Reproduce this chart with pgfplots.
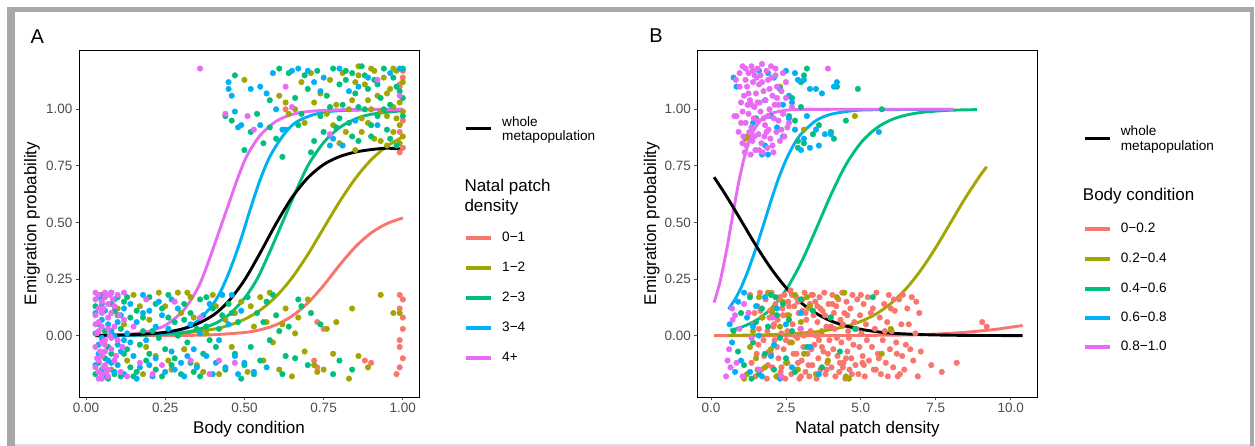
\documentclass[border=0pt]{standalone}
\usepackage{fontspec}
\setmainfont{Liberation Sans}
\usepackage{pgfplots}
\pgfplotsset{compat=1.18}
\definecolor{cR}{HTML}{F8766D}
\definecolor{cO}{HTML}{A3A500}
\definecolor{cG}{HTML}{00BF7D}
\definecolor{cB}{HTML}{00B0F6}
\definecolor{cP}{HTML}{E76BF3}
\definecolor{gtxt}{HTML}{4D4D4D}
\definecolor{frm}{HTML}{A8A8A8}
\pgfplotsset{
  myax/.style={scale only axis, width=340pt, height=347pt,
    axis line style={black, line width=0.9pt},
    tick align=outside, major tick length=3pt, tick pos=left,
    tick style={gtxt, line width=0.8pt},
    ticklabel style={font=\fontsize{13.5}{15}\selectfont, text=gtxt},
    /pgf/number format/assume math mode=true,
    label style={font=\fontsize{17}{19}\selectfont},
    ymin=-0.271, ymax=1.262,
    ytick={0,0.25,0.5,0.75,1}, yticklabels={0.00,0.25,0.50,0.75,1.00},
    ylabel={Emigration probability},
  },
  pts/.style={only marks, mark=*, mark size=2.8pt, color=#1},
  crv/.style={color=#1, line width=2.9pt, smooth, tension=0.5},
}
\newcommand{\lk}[3]{\draw[#1, line width=3.8pt] (#2pt,#3pt) -- ++(25pt,0pt);}
\begin{document}
\begin{tikzpicture}
\useasboundingbox (0pt,0pt) rectangle (1255pt,446pt);
\fill[white] (0pt,0pt) rectangle (1255pt,446pt);
\fill[frm] (7pt,434pt) rectangle (1253.5pt,439pt);
\fill[frm] (7pt,0pt) rectangle (15pt,439pt);
\fill[frm] (1249.5pt,0pt) rectangle (1253.5pt,439pt);
\fill[gray!25] (15pt,0pt) rectangle (1249.5pt,1.5pt);

% ---------------- Panel A ----------------
\begin{axis}[myax, at={(79pt,49pt)}, anchor=south west,
  xmin=-0.022, xmax=1.051,
  xtick={0,0.25,0.5,0.75,1}, xticklabels={0.00,0.25,0.50,0.75,1.00},
  xlabel={Body condition},
  xlabel style={at={(axis description cs:0.5,-0.092)}, anchor=center},
  ylabel style={at={(axis description cs:-0.138,0.5)}, anchor=center}]
% red 0-1
\addplot[pts=cR] coordinates {(0.31,-0.06)(0.73,0.06)(0.73,-0.14)(0.75,0.03)(0.88,-0.11)(0.90,-0.12)(0.99,0.18)(1.00,0.16)(0.99,0.12)(1.00,0.08)(0.99,-0.05)(1.00,-0.10)(0.99,-0.14)(0.98,-0.17)(1.00,0.03)(0.99,-0.02)(0.72,-0.11)
(0.63,1.00)(1.00,1.17)(1.00,1.14)(0.99,1.10)(1.00,0.95)(0.99,0.90)(1.00,0.83)(0.99,0.81)(0.99,1.11)};
% olive 1-2
\addplot[pts=cO] coordinates {(0.05,0.16)(0.08,-0.15)(0.10,0.12)(0.13,-0.11)(0.15,0.18)(0.18,-0.17)(0.20,0.07)(0.22,-0.09)(0.25,0.13)(0.27,-0.15)(0.29,0.19)(0.31,-0.06)(0.33,0.17)(0.35,-0.13)(0.38,0.01)(0.40,0.18)(0.42,-0.17)(0.44,0.07)(0.46,-0.05)(0.49,0.15)(0.51,-0.16)(0.53,0.04)(0.56,-0.11)(0.58,0.19)(0.59,-0.03)(0.61,-0.15)(0.63,0.12)(0.65,-0.18)(0.67,0.08)(0.69,-0.07)(0.72,-0.13)(0.73,-0.16)(0.76,0.03)(0.78,-0.08)(0.84,0.12)(0.83,-0.19)(0.93,0.18)(0.97,0.10)(0.99,0.10)(0.57,0.06)
(0.12,0.05)(0.17,0.13)(0.19,-0.05)(0.23,0.19)(0.26,-0.11)(0.30,0.10)(0.32,0.19)(0.34,0.08)(0.37,-0.16)(0.41,0.13)(0.47,0.10)(0.52,0.13)(0.55,0.17)(0.62,0.05)(0.66,0.01)(0.70,0.16)(0.75,-0.15)(0.79,0.06)(0.86,-0.09)(0.89,-0.14)
(0.50,1.13)(0.61,1.06)(0.63,1.03)(0.64,0.98)(0.66,1.00)(0.69,0.94)(0.72,1.03)(0.74,1.07)(0.77,1.13)(0.79,1.02)(0.80,0.85)(0.82,0.90)(0.84,1.04)(0.85,0.82)(0.86,1.15)(0.88,1.11)(0.89,0.94)(0.90,1.18)(0.91,0.87)(0.92,1.06)(0.93,0.99)(0.94,1.14)(0.95,0.84)(0.96,1.09)(0.97,0.90)(0.98,1.17)(0.98,0.96)(0.99,1.03)(1.00,0.88)(1.00,1.12)(0.99,0.93)(0.97,1.01)(0.87,0.96)(0.76,0.98)(0.68,1.12)
(0.81,1.16)(0.83,1.00)(0.85,1.12)(0.87,0.90)(0.89,1.04)(0.91,1.17)(0.93,0.86)(0.95,1.07)(0.97,1.18)(0.99,0.85)(1.00,0.99)(0.95,0.97)(0.90,1.00)(0.78,0.93)(0.71,1.16)(0.86,1.19)};
% green 2-3
\addplot[pts=cG] coordinates {(0.03,-0.17)(0.04,0.05)(0.06,-0.10)(0.08,0.14)(0.09,-0.17)(0.11,0.03)(0.12,-0.08)(0.13,0.17)(0.14,-0.14)(0.16,0.11)(0.17,-0.04)(0.18,0.08)(0.19,-0.11)(0.20,0.17)(0.21,0.02)(0.22,-0.15)(0.24,0.12)(0.25,-0.06)(0.26,0.18)(0.27,-0.13)(0.28,0.06)(0.30,-0.17)(0.31,0.14)(0.32,-0.03)(0.33,0.10)(0.34,-0.16)(0.36,0.16)(0.37,-0.08)(0.38,0.04)(0.40,0.12)(0.41,-0.05)(0.43,0.09)(0.44,-0.15)(0.45,0.14)(0.47,-0.08)(0.48,0.06)(0.50,-0.13)(0.51,0.17)(0.52,-0.05)(0.54,0.10)(0.55,-0.11)(0.57,0.15)(0.58,-0.02)(0.60,0.09)(0.62,-0.17)(0.64,0.04)(0.66,-0.10)(0.68,0.13)(0.70,-0.13)(0.74,0.05)(0.05,0.18)(0.07,-0.05)(0.10,0.09)(0.15,-0.18)(0.23,-0.01)
(0.04,-0.12)(0.06,0.02)(0.09,0.11)(0.11,-0.18)(0.03,0.13)(0.07,-0.19)(0.12,0.15)(0.05,-0.15)(0.08,-0.08)(0.10,0.17)(0.13,-0.06)(0.14,0.08)
(0.16,-0.16)(0.18,0.02)(0.20,-0.08)(0.22,0.14)(0.24,-0.18)(0.26,0.08)(0.28,-0.10)(0.29,0.00)(0.31,0.07)(0.33,-0.12)(0.35,0.03)(0.36,-0.18)(0.38,0.17)(0.39,-0.02)(0.42,0.03)(0.46,0.10)(0.49,-0.19)(0.53,-0.17)(0.56,0.06)(0.59,0.18)(0.61,0.02)(0.63,-0.09)(0.67,0.16)(0.71,0.10)(0.78,-0.17)(0.80,-0.11)(0.84,-0.15)
(0.44,0.97)(0.46,0.95)(0.47,1.15)(0.52,0.90)(0.54,0.98)(0.56,0.85)(0.58,1.04)(0.60,0.87)(0.62,0.79)(0.64,1.16)(0.66,1.05)(0.68,0.98)(0.70,1.09)(0.71,0.81)(0.73,1.17)(0.74,0.97)(0.76,1.06)(0.78,1.18)(0.79,0.92)(0.80,1.11)(0.81,1.02)(0.83,0.94)(0.84,1.16)(0.85,1.07)(0.86,0.86)(0.87,1.19)(0.88,1.00)(0.89,1.09)(0.90,0.88)(0.91,1.13)(0.92,0.97)(0.93,1.05)(0.94,1.18)(0.95,0.91)(0.96,1.02)(0.97,1.14)(0.98,0.84)(0.99,1.08)(1.00,0.97)(1.00,1.18)(0.82,1.13)(0.75,0.90)(0.69,1.15)
(0.80,0.96)(0.82,1.17)(0.84,0.88)(0.86,1.01)(0.88,1.15)(0.90,0.93)(0.92,1.11)(0.94,1.00)(0.96,0.87)(0.98,1.10)(1.00,1.05)(0.72,0.86)(0.77,1.01)(0.67,0.93)(0.58,0.92)(0.50,0.82)(0.61,1.18)};
% blue 3-4
\addplot[pts=cB] coordinates {(0.03,0.10)(0.04,-0.08)(0.05,0.14)(0.06,-0.15)(0.03,0.01)(0.07,0.05)(0.08,-0.12)(0.09,0.16)(0.10,-0.04)(0.11,0.09)(0.12,-0.17)(0.13,0.01)(0.14,0.14)(0.15,-0.09)(0.16,0.06)(0.17,-0.14)(0.18,0.18)(0.19,-0.02)(0.20,0.11)(0.22,-0.10)(0.23,0.15)(0.25,-0.16)(0.26,0.03)(0.27,-0.07)(0.29,0.12)(0.30,-0.12)(0.31,-0.18)(0.33,0.05)(0.34,-0.06)(0.35,-0.14)(0.37,0.09)(0.38,-0.09)(0.40,-0.17)(0.41,-0.12)(0.43,0.18)(0.44,-0.14)(0.46,0.18)(0.48,-0.17)(0.49,0.11)(0.06,0.11)(0.08,0.02)(0.10,-0.13)(0.05,-0.01)(0.12,0.12)(0.21,-0.18)
(0.04,0.17)(0.05,0.07)(0.07,-0.11)(0.09,0.00)(0.11,-0.07)(0.03,-0.13)(0.08,0.19)(0.10,0.06)(0.06,-0.18)(0.12,-0.02)(0.04,-0.04)(0.09,-0.16)
(0.14,-0.03)(0.16,-0.19)(0.18,0.10)(0.20,-0.13)(0.22,0.04)(0.24,0.09)(0.27,0.16)(0.28,-0.15)(0.32,-0.09)(0.36,0.01)(0.39,0.14)(0.42,-0.02)(0.45,0.05)(0.47,-0.09)(0.50,-0.12)(0.53,-0.16)(0.57,-0.14)
(0.45,1.12)(0.45,1.09)(0.46,1.06)(0.49,0.93)(0.48,0.92)(0.52,1.09)(0.55,1.10)(0.57,1.07)(0.60,1.00)(0.62,0.91)(0.65,1.17)(0.67,1.18)(0.70,1.17)(0.72,1.12)(0.75,1.14)(0.77,0.84)(0.78,0.87)(0.81,0.84)(0.83,1.08)(0.86,1.10)(0.89,1.14)(0.92,0.93)(0.99,1.18)(0.63,0.91)(0.55,0.93)
(0.47,0.99)(0.59,1.16)(0.74,1.08)(0.80,1.18)(0.85,0.95)(0.96,1.16)};
% pink 4+
\addplot[pts=cP] coordinates {(0.03,0.19)(0.04,0.12)(0.03,-0.05)(0.05,-0.17)(0.04,0.02)(0.06,0.17)(0.05,-0.09)(0.07,0.08)(0.03,-0.14)(0.06,-0.02)(0.08,0.19)(0.07,-0.18)(0.04,0.06)(0.09,-0.11)(0.05,0.15)(0.08,-0.06)(0.03,0.09)(0.06,-0.13)(0.10,0.18)(0.07,0.03)(0.04,-0.19)(0.09,0.13)(0.05,-0.03)(0.11,-0.16)(0.03,0.16)(0.08,0.10)(0.06,-0.07)(0.12,0.19)(0.04,-0.11)(0.07,-0.15)(0.10,-0.02)(0.05,0.04)(0.13,-0.18)(0.17,-0.12)(0.21,-0.17)(0.24,-0.13)(0.12,0.07)(0.15,0.04)(0.28,0.15)(0.33,-0.11)(0.39,-0.17)(0.42,-0.11)(0.47,-0.12)(0.19,0.16)(0.36,0.08)
(0.05,0.10)(0.04,-0.16)(0.06,0.19)(0.08,-0.01)(0.03,0.05)(0.07,0.14)(0.05,-0.19)(0.09,0.04)(0.04,0.18)(0.06,-0.04)
(0.035,0.01)(0.045,-0.07)(0.055,0.12)(0.065,-0.16)(0.075,0.00)(0.085,0.16)(0.095,-0.09)(0.035,-0.10)(0.055,-0.14)(0.075,0.18)(0.105,0.09)(0.115,-0.05)
(0.36,1.18)(0.44,0.98)(0.51,0.97)(0.53,0.91)(0.65,1.01)(0.77,0.89)(0.92,1.13)(0.99,1.06)(0.63,1.10)};
% fitted curves
\addplot[crv=cR] coordinates {(0.03,0)(0.30,0.001)(0.40,0.0039)(0.50,0.014)(0.55,0.026)(0.60,0.048)(0.65,0.086)(0.70,0.144)(0.75,0.222)(0.80,0.311)(0.85,0.392)(0.90,0.454)(0.95,0.495)(1.0,0.52)};
\addplot[crv=cO] coordinates {(0.03,0.0007)(0.20,0.0039)(0.30,0.0104)(0.40,0.028)(0.45,0.045)(0.50,0.072)(0.55,0.113)(0.60,0.173)(0.65,0.255)(0.70,0.358)(0.75,0.475)(0.80,0.591)(0.85,0.694)(0.90,0.777)(0.95,0.837)(1.0,0.878)};
\addplot[crv=cG] coordinates {(0.03,0.0003)(0.15,0.0018)(0.25,0.0067)(0.33,0.019)(0.40,0.049)(0.45,0.091)(0.50,0.165)(0.54,0.25)(0.58,0.37)(0.62,0.5)(0.66,0.63)(0.70,0.75)(0.75,0.853)(0.80,0.919)(0.85,0.957)(0.90,0.978)(1.0,0.994)};
\addplot[crv=cB] coordinates {(0.03,0.0002)(0.15,0.002)(0.25,0.011)(0.30,0.027)(0.35,0.062)(0.40,0.137)(0.43,0.21)(0.46,0.31)(0.49,0.43)(0.52,0.565)(0.55,0.69)(0.58,0.79)(0.62,0.88)(0.66,0.94)(0.72,0.977)(0.80,0.994)(1.0,0.9998)};
\addplot[crv=cP] coordinates {(0.03,0.001)(0.10,0.004)(0.15,0.0085)(0.20,0.02)(0.25,0.045)(0.30,0.10)(0.33,0.155)(0.36,0.23)(0.39,0.34)(0.42,0.46)(0.45,0.58)(0.48,0.70)(0.51,0.80)(0.55,0.885)(0.60,0.947)(0.65,0.977)(0.70,0.99)(0.80,0.998)(1.0,1.0)};
\addplot[crv=black] coordinates {(0.03,0.001)(0.15,0.0044)(0.25,0.015)(0.33,0.040)(0.40,0.089)(0.45,0.152)(0.50,0.245)(0.55,0.366)(0.60,0.495)(0.65,0.610)(0.70,0.697)(0.75,0.756)(0.80,0.791)(0.85,0.811)(0.90,0.822)(0.95,0.828)(1.0,0.824)};
\end{axis}

% ---------------- Panel B ----------------
\begin{axis}[myax, at={(697.3pt,49pt)}, anchor=south west,
  xmin=-0.46, xmax=10.89,
  xtick={0,2.5,5,7.5,10}, xticklabels={0.0,2.5,5.0,7.5,10.0},
  xlabel={Natal patch density},
  xlabel style={at={(axis description cs:0.5,-0.092)}, anchor=center},
  ylabel style={at={(axis description cs:-0.134,0.5)}, anchor=center}]
% red 0-0.2
\addplot[pts=cR] coordinates {(1.30,0.18)(1.35,-0.12)(1.42,0.05)(1.48,-0.18)(1.55,0.13)(1.58,-0.04)(1.63,0.19)(1.68,-0.15)(1.72,0.08)(1.77,-0.09)(1.82,0.16)(1.86,-0.19)(1.88,0.02)(1.93,-0.07)(1.97,0.11)(2.02,0.19)(2.05,-0.14)(2.08,0.04)(2.12,-0.02)(2.15,0.14)(2.18,-0.18)(2.22,0.07)(2.25,-0.10)(2.28,0.17)(2.32,-0.16)(2.35,0.01)(2.38,0.12)(2.42,-0.06)(2.45,0.18)(2.48,-0.19)(2.52,0.09)(2.55,-0.12)(2.58,0.15)(2.62,-0.03)(2.65,0.20)(2.68,-0.17)(2.72,0.05)(2.75,-0.08)(2.78,0.13)(2.82,-0.15)(2.85,0.17)(2.88,-0.01)(2.92,0.10)(2.95,-0.19)(2.98,0.03)(3.02,-0.11)(3.05,0.16)(3.08,-0.05)(3.12,0.19)(3.15,-0.16)(3.18,0.07)(3.22,-0.08)(3.25,0.12)(3.28,-0.18)(3.32,0.02)(3.35,0.18)(3.38,-0.13)(3.42,0.09)(3.45,-0.04)(3.48,0.15)(3.52,-0.19)(3.55,0.06)(3.58,-0.10)(3.62,0.17)(3.65,-0.15)(3.68,0.01)(3.72,0.11)(3.75,-0.07)(3.78,0.19)(3.82,-0.17)(3.85,0.04)(3.88,-0.12)(3.92,0.14)(3.95,-0.02)(3.98,0.08)(4.02,-0.14)(4.05,0.18)(4.08,-0.06)(4.12,0.03)(4.15,-0.18)(4.18,0.13)(4.22,-0.09)(4.25,0.16)(4.28,-0.16)(4.32,0.07)(4.35,-0.03)(4.38,0.19)(4.42,-0.12)(4.45,0.10)(4.48,-0.19)(4.52,0.15)(4.55,-0.07)(4.58,0.02)(4.62,-0.15)(4.65,0.12)(4.68,-0.10)(4.72,0.18)(4.75,-0.04)(4.78,0.06)(4.82,-0.13)(4.88,0.16)(4.92,-0.17)(4.97,0.09)(5.02,0.01)(5.06,-0.09)(5.09,0.14)(5.13,-0.18)(5.17,0.05)(5.23,0.17)(5.27,-0.11)(5.33,0.10)(5.37,-0.05)(5.43,-0.15)(5.47,0.03)(5.52,0.19)(5.57,-0.08)(5.63,0.08)(5.67,-0.17)(5.73,-0.02)(5.78,0.14)(5.83,-0.12)(5.88,0.06)(5.93,0.18)(5.97,-0.06)(6.03,0.02)(6.08,-0.14)(6.13,0.11)(6.18,-0.03)(6.23,-0.18)(6.28,0.16)(6.35,0.05)(6.38,-0.09)(6.45,-0.15)(6.55,0.12)(6.50,-0.04)(6.70,0.17)(6.75,-0.11)(6.82,0.01)(6.90,-0.18)(6.85,0.15)(7.35,-0.13)(8.20,-0.12)(7.00,-0.07)(9.05,0.06)(9.20,0.04)
(2.00,-0.08)(2.40,0.09)(2.90,-0.12)(3.30,0.14)(3.70,-0.05)(4.10,0.10)(4.60,-0.01)(5.10,-0.13)(2.60,0.13)(3.10,0.00)(3.60,-0.02)(4.30,-0.12)
(1.45,0.10)(1.52,-0.08)(1.60,0.03)(1.75,-0.02)(1.90,-0.13)(2.10,0.05)(2.20,-0.05)(2.30,0.16)(2.50,-0.02)(2.70,0.18)(2.80,0.00)(2.90,0.15)(3.00,-0.18)(3.15,0.10)(3.25,-0.13)(3.40,0.18)(3.50,0.00)(3.65,0.12)(3.80,0.09)(3.90,-0.08)(4.00,0.04)(4.20,-0.01)(4.40,0.05)(4.50,-0.10)(4.70,-0.17)(4.85,0.03)(5.00,0.18)(5.20,-0.02)(5.40,0.12)(5.60,-0.10)(5.80,0.02)(6.00,0.12)(6.20,-0.08)(6.40,0.18)(6.60,0.05)(6.30,-0.17)(5.90,-0.18)(5.50,-0.15)(4.95,-0.05)(4.40,-0.14)(3.85,-0.15)(3.35,-0.06)(2.85,-0.08)(2.35,-0.14)(1.95,0.08)(1.65,0.11)(2.55,0.02)(3.05,0.11)(3.55,0.13)(4.05,0.14)(4.55,0.09)(5.05,-0.12)(6.65,-0.06)(6.95,0.10)(7.70,-0.16)(6.10,0.16)};
% olive 0.2-0.4
\addplot[pts=cO] coordinates {(1.1,-0.19)(1.2,-0.17)(1.3,-0.05)(1.4,0.02)(1.5,-0.10)(1.6,0.17)(1.7,0.08)(1.8,-0.14)(1.9,0.19)(2.0,-0.06)(2.1,0.12)(2.2,-0.18)(2.3,0.04)(2.4,0.15)(2.5,-0.12)(2.6,0.09)(2.7,-0.03)(2.8,0.18)(2.9,-0.15)(3.0,0.06)(3.1,-0.08)(3.3,0.13)(3.5,-0.17)(3.7,0.02)(3.9,-0.11)(4.2,0.17)(4.5,-0.18)(4.6,-0.19)(5.7,-0.08)(6.0,0.03)(1.25,0.10)(1.55,-0.15)(2.05,0.10)(4.45,0.19)(3.2,0.17)
(2.3,1.10)(1.2,0.88)(4.8,0.97)(3.1,0.91)(1.15,0.87)};
% green 0.4-0.6
\addplot[pts=cG] coordinates {(0.75,0.02)(0.9,-0.07)(1.0,0.10)(1.1,-0.13)(1.3,0.17)(1.4,-0.03)(1.5,0.06)(1.6,-0.17)(1.7,0.12)(1.8,-0.08)(1.9,0.04)(2.0,0.18)(2.1,-0.15)(2.2,0.09)(2.3,-0.01)(2.4,0.14)(2.5,-0.10)(2.6,0.07)(2.8,-0.16)(3.0,0.16)(3.2,-0.05)(3.4,0.11)(3.7,-0.14)(4.0,0.08)(4.3,-0.07)(4.8,0.03)(5.4,0.17)(1.35,-0.19)(2.15,0.17)(2.7,0.02)
(3.2,1.18)(3.1,1.15)(2.7,1.05)(3.0,1.01)(2.8,0.95)(2.6,0.97)(2.9,0.86)(3.1,0.85)(3.4,0.89)(3.6,0.93)(4.0,0.90)(4.1,0.87)(4.2,1.10)(4.9,1.09)(4.5,0.95)(3.0,1.12)(2.9,0.83)(5.7,1.00)(1.5,0.96)};
% blue 0.6-0.8
\addplot[pts=cB] coordinates {(0.62,0.05)(0.7,-0.03)(0.9,0.15)(1.0,-0.11)(1.2,0.08)(1.3,-0.16)(1.5,0.13)(1.6,0.00)(1.7,-0.18)(1.8,0.17)(2.0,-0.09)(2.2,0.12)(2.3,-0.19)(2.5,0.05)(2.7,-0.14)(3.0,0.10)(3.3,-0.05)(3.6,-0.17)(1.1,0.19)(2.1,-0.04)(0.8,-0.16)(1.4,0.04)
(0.75,1.14)(0.85,1.10)(1.6,1.17)(1.9,1.16)(2.1,1.14)(2.5,1.17)(2.8,1.16)(2.9,1.13)(3.1,1.13)(3.3,1.09)(3.5,1.09)(3.7,1.07)(4.1,1.10)(4.2,1.12)(2.3,1.09)(2.6,1.06)(1.8,1.04)(2.4,1.02)(2.7,1.03)(3.2,0.97)(3.5,0.91)(3.8,0.89)(4.0,0.89)(3.1,0.87)(3.3,0.83)(3.0,0.82)(2.6,0.96)(2.2,0.92)(1.8,0.84)(1.7,0.80)(1.9,0.80)(2.8,0.91)(3.6,0.84)(5.6,0.90)(2.4,0.88)(1.4,0.94)(2.0,0.97)};
% pink 0.8-1.0
\addplot[pts=cP] coordinates {(0.50,-0.18)(0.60,-0.06)(0.65,-0.14)(0.72,0.07)(0.80,0.09)(0.85,-0.12)(0.95,0.03)(1.05,-0.18)(1.10,0.14)(1.25,0.10)(1.35,-0.01)(1.60,-0.15)(2.05,0.08)(2.35,-0.18)(3.0,0.03)(0.70,0.12)(0.55,-0.11)
(0.78,0.97)(0.85,0.97)(0.83,1.13)(0.95,1.10)(1.05,1.19)(1.15,1.18)(1.25,1.16)(1.35,1.19)(1.45,1.15)(1.55,1.18)(1.70,1.20)(1.85,1.17)(2.00,1.19)(2.15,1.18)(1.10,1.06)(1.20,1.10)(1.30,1.04)(1.40,1.12)(1.50,1.07)(1.60,1.11)(1.75,1.08)(1.90,1.13)(2.05,1.06)(2.20,1.10)(2.35,1.08)(2.50,1.05)(1.05,0.99)(1.15,0.94)(1.25,0.98)(1.35,0.92)(1.45,1.01)(1.55,0.95)(1.65,0.99)(1.80,0.93)(1.95,1.00)(2.10,0.96)(2.25,1.02)(2.40,0.98)(2.55,0.92)(1.08,0.88)(1.18,0.84)(1.28,0.90)(1.38,0.86)(1.48,0.82)(1.58,0.89)(1.68,0.85)(1.78,0.88)(1.88,0.83)(1.98,0.87)(2.08,0.81)(2.18,0.90)(2.30,0.86)(2.45,0.88)(2.60,0.94)(1.22,1.02)(1.42,0.96)(1.62,1.03)(1.82,1.04)(2.02,1.14)(1.32,0.80)(1.72,0.81)(1.92,0.91)(0.92,0.90)(1.00,1.03)(1.52,1.14)(2.12,1.02)(3.90,1.18)(2.70,1.01)(1.12,0.81)(2.40,1.16)
(1.15,1.13)(1.25,1.07)(1.35,1.02)(1.45,0.88)(1.55,1.03)(1.65,1.15)(1.75,0.96)(1.85,0.90)(1.95,1.09)(2.05,0.84)(2.15,1.15)(2.25,0.95)(2.35,0.91)(1.05,0.85)(1.0,0.94)(0.95,1.16)(1.6,0.82)(1.9,0.97)(2.2,1.05)(1.4,1.17)(1.7,1.12)(2.5,1.12)};
% fitted curves
\addplot[crv=cR] coordinates {(0.1,0)(3.0,0)(5.0,0.001)(6.5,0.003)(7.5,0.007)(8.5,0.015)(9.5,0.028)(10.4,0.045)};
\addplot[crv=cO] coordinates {(0.58,0.0013)(1.5,0.0029)(2.5,0.007)(3.5,0.017)(4.0,0.027)(4.5,0.041)(5.0,0.063)(5.5,0.095)(6.0,0.142)(6.5,0.206)(7.0,0.289)(7.5,0.389)(8.0,0.5)(8.5,0.611)(9.0,0.711)(9.2,0.746)};
\addplot[crv=cG] coordinates {(0.64,0.024)(1.0,0.037)(1.5,0.067)(2.0,0.119)(2.5,0.202)(3.0,0.321)(3.5,0.469)(4.0,0.622)(4.5,0.755)(5.0,0.852)(5.5,0.915)(6.0,0.953)(6.5,0.974)(7.0,0.986)(7.5,0.992)(8.0,0.996)(8.87,0.9986)};
\addplot[crv=cB] coordinates {(0.58,0.117)(0.8,0.161)(1.0,0.212)(1.25,0.293)(1.5,0.387)(1.75,0.49)(2.0,0.596)(2.25,0.694)(2.5,0.776)(2.75,0.841)(3.0,0.89)(3.5,0.95)(4.0,0.978)(4.75,0.994)(5.5,0.998)(8.0,1.0)};
\addplot[crv=cP] coordinates {(0.1,0.146)(0.3,0.239)(0.5,0.366)(0.7,0.515)(0.9,0.662)(1.1,0.783)(1.3,0.869)(1.5,0.924)(1.75,0.963)(2.0,0.982)(2.5,0.996)(3.0,0.999)(4.0,1.0)(8.1,1.0)};
\addplot[crv=black] coordinates {(0.1,0.70)(0.5,0.619)(1.0,0.509)(1.5,0.398)(2.0,0.297)(2.5,0.212)(3.0,0.146)(3.5,0.099)(4.0,0.065)(4.5,0.043)(5.0,0.028)(5.5,0.018)(6.0,0.011)(7.0,0.0047)(8.0,0.0019)(9.0,0.0008)(10.4,0.0002)};
\end{axis}

% panel tags
\node[font=\fontsize{20}{22}\selectfont] at (37.3pt,409.5pt) {A};
\node[font=\fontsize{20}{22}\selectfont] at (656pt,410.5pt) {B};

% legends
\begin{scope}[every node/.style={anchor=mid west, inner sep=0pt, font=\fontsize{13.6}{15}\selectfont}]
\draw[black, line width=3pt] (466pt,317.7pt) -- ++(25pt,0pt);
\node at (502pt,322pt) {whole};
\node at (502pt,308.3pt) {metapopulation};
\node[font=\fontsize{17}{19}\selectfont] at (464.3pt,257pt) {Natal patch};
\node[font=\fontsize{17}{19}\selectfont] at (464.3pt,237.4pt) {density};
\lk{cR}{466}{208.3}\node at (502pt,207.3pt) {0−1};
\lk{cO}{466}{178.3}\node at (502pt,177.3pt) {1−2};
\lk{cG}{466}{148.3}\node at (502pt,147.3pt) {2−3};
\lk{cB}{466}{118.3}\node at (502pt,117.3pt) {3−4};
\lk{cP}{466}{88.3}\node at (502pt,87.3pt) {4+};
\draw[black, line width=3pt] (1085pt,307.7pt) -- ++(25pt,0pt);
\node at (1120.7pt,313.3pt) {whole};
\node at (1120.7pt,298.3pt) {metapopulation};
\node[font=\fontsize{17}{19}\selectfont] at (1082.7pt,248pt) {Body condition};
\lk{cR}{1085}{217}\node at (1120.7pt,216pt) {0−0.2};
\lk{cO}{1085}{187}\node at (1120.7pt,186pt) {0.2−0.4};
\lk{cG}{1085}{157}\node at (1120.7pt,156pt) {0.4−0.6};
\lk{cB}{1085}{127.7}\node at (1120.7pt,126.7pt) {0.6−0.8};
\lk{cP}{1085}{98.7}\node at (1120.7pt,97.7pt) {0.8−1.0};
\end{scope}
\end{tikzpicture}
\end{document}
